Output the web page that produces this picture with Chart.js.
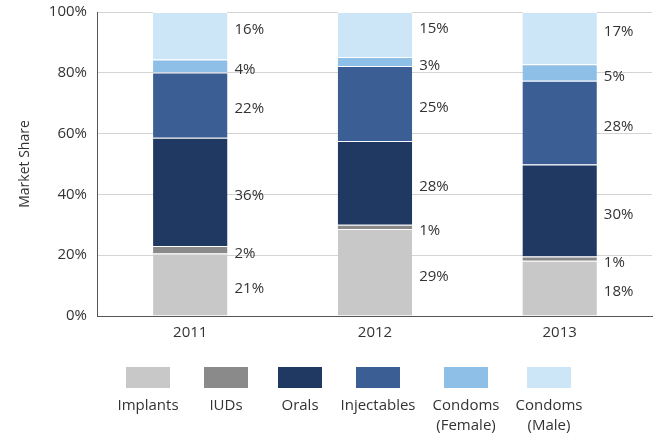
<!DOCTYPE html>
<html lang="en">
<head>
<meta charset="UTF-8">
<title>Market Share</title>
<script src="https://cdn.jsdelivr.net/npm/chart.js"></script>
<style>
    body { margin: 0; background: #fff; }
    .caixa { width: 657px; height: 435px; }
</style>
</head>
<body>
<div class="caixa"><canvas id="grafico"></canvas></div>

<script>
    const anos = ['2011', '2012', '2013'];
    const metodos = ['Implants', 'IUDs', 'Orals', 'Injectables', 'Condoms\n(Female)', 'Condoms\n(Male)'];
    const implants = [20.6, 28.6, 18.2];
    const iuds = [2.4, 1.4, 1.4];
    const orals = [35.6, 27.6, 30.2];
    const injectables = [21.5, 24.6, 27.6];
    const condomsFemale = [4.3, 3.0, 5.4];
    const condomsMale = [15.6, 14.8, 17.2];
    const ticksY = [0, 20, 40, 60, 80, 100];
    const cores = ['#c8c8c8', '#8a8a8a', '#1f3962', '#3b5e95', '#8ebfe7', '#cce6f7'];

    const series = [implants, iuds, orals, injectables, condomsFemale, condomsMale];
    const fonte = '"Open Sans", sans-serif';

    // rotulos a direita de cada segmento
    const rotulos = {
        id: 'rotulos',
        afterDatasetsDraw(chart) {
            const ctx = chart.ctx;
            ctx.save();
            ctx.font = '15px ' + fonte;
            ctx.fillStyle = '#333';
            ctx.textBaseline = 'middle';
            chart.data.datasets.forEach((ds, i) => {
                const meta = chart.getDatasetMeta(i);
                meta.data.forEach((bar, j) => {
                    let y = (bar.y + bar.base) / 2 + 4;
                    if (i === chart.data.datasets.length - 1) y -= 10;
                    ctx.fillText(Math.round(ds.data[j]) + '%', bar.x + bar.width / 2 + 7, y);
                });
            });
            ctx.restore();
        }
    };

    // legenda com caixa em cima e texto embaixo
    const legenda = {
        id: 'legenda',
        afterDraw(chart) {
            const ctx = chart.ctx;
            const centros = [148, 226, 300, 378, 466, 549];
            ctx.save();
            ctx.font = '15px ' + fonte;
            ctx.textAlign = 'center';
            ctx.textBaseline = 'middle';
            metodos.forEach((nome, i) => {
                ctx.fillStyle = cores[i];
                ctx.fillRect(centros[i] - 22, 367, 44, 21);
                ctx.fillStyle = '#333';
                nome.split('\n').forEach((linha, k) => {
                    ctx.fillText(linha, centros[i], 406 + k * 20);
                });
            });
            ctx.restore();
        }
    };

    new Chart(document.getElementById('grafico'), {
        type: 'bar',
        data: {
            labels: anos,
            datasets: series.map((valores, i) => ({
                label: metodos[i],
                data: valores,
                backgroundColor: cores[i],
                borderColor: '#fff',
                borderWidth: { top: 1, bottom: 0, left: 0, right: 0 },
                borderSkipped: false,
                barPercentage: 0.403,
                categoryPercentage: 1
            }))
        },
        options: {
            responsive: true,
            maintainAspectRatio: false,
            animation: false,
            layout: { autoPadding: false, padding: { top: 12, right: 5, bottom: 85, left: 17 } },
            plugins: {
                legend: { display: false },
                tooltip: { enabled: false }
            },
            scales: {
                x: {
                    stacked: true,
                    grid: { display: false, drawTicks: false },
                    border: { color: '#555' },
                    ticks: { color: '#333', font: { size: 15, family: fonte }, padding: 8 }
                },
                y: {
                    stacked: true,
                    min: 0,
                    max: 100,
                    afterBuildTicks: axis => { axis.ticks = ticksY.map(v => ({ value: v })); },
                    afterFit: axis => { axis.paddingTop = 0; },
                    grid: { color: '#d4d4d4', drawTicks: false },
                    border: { color: '#555' },
                    ticks: {
                        color: '#333',
                        font: { size: 15, family: fonte },
                        padding: 11,
                        callback: v => v + '%'
                    },
                    title: {
                        display: true,
                        text: 'Market Share',
                        color: '#333',
                        font: { size: 14, family: fonte },
                        padding: { top: 0, bottom: 4 }
                    }
                }
            }
        },
        plugins: [rotulos, legenda]
    });
</script>
</body>
</html>
